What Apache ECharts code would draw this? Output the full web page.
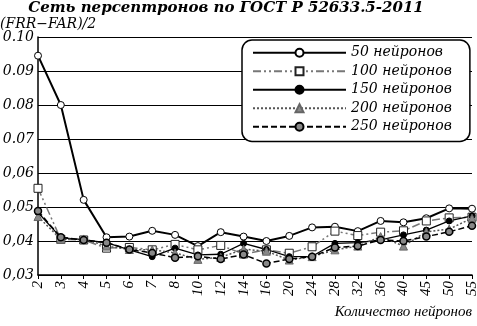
<!DOCTYPE html>
<html><head><meta charset="utf-8">
<script src="https://cdn.jsdelivr.net/npm/echarts@6/dist/echarts.min.js"></script>
<style>html,body{margin:0;padding:0;background:#fff}#c{width:477px;height:326px}</style>
</head><body><div id="c"></div>
<script>
const categories = ['2','3','4','5','6','7','8','10','12','14','16','20','24','28','32','36','40','45','50','55'];
const s50  = [0.0945,0.0800,0.0521,0.0411,0.0413,0.0430,0.0418,0.0385,0.0426,0.0413,0.0400,0.0415,0.0440,0.0442,0.0429,0.0459,0.0455,0.0467,0.0496,0.0495];
const s100 = [0.0555,0.0405,0.0403,0.0379,0.0381,0.0374,0.0390,0.0374,0.0387,0.0362,0.0374,0.0364,0.0383,0.0429,0.0416,0.0426,0.0430,0.0459,0.0468,0.0470];
const s150 = [0.0484,0.0410,0.0403,0.0395,0.0374,0.0354,0.0379,0.0359,0.0361,0.0393,0.0375,0.0354,0.0355,0.0393,0.0395,0.0403,0.0418,0.0432,0.0459,0.0474];
const s200 = [0.0472,0.0405,0.0406,0.0385,0.0375,0.0374,0.0365,0.0346,0.0352,0.0376,0.0370,0.0344,0.0354,0.0374,0.0385,0.0413,0.0385,0.0427,0.0435,0.0467];
const s250 = [0.0488,0.0411,0.0403,0.0395,0.0375,0.0365,0.0351,0.0355,0.0347,0.0360,0.0334,0.0347,0.0354,0.0381,0.0385,0.0403,0.0400,0.0413,0.0427,0.0445];
const seriesNames = ['50 нейронов','100 нейронов','150 нейронов','200 нейронов','250 нейронов'];
const yTickLabels = {'0.03':'0,03','0.04':'0,04','0.05':'0,05','0.06':'0,06','0.07':'0.07','0.08':'0.08','0.09':'0.09','0.1':'0.10'};

const font = 'Liberation Serif';
const wide = 'DejaVu Serif';
const chart = echarts.init(document.getElementById('c'), null, {renderer:'canvas'});
chart.setOption({
  animation:false,
  backgroundColor:'#fff',
  title:[
    {text:'Сеть персептронов по ГОСТ Р 52633.5-2011',left:226,textAlign:'center',top:1,padding:0,
      textStyle:{fontFamily:wide,fontStyle:'italic',fontWeight:'bold',fontSize:15,color:'#000'}},
    {text:'(FRR−FAR)/2',left:0,top:17,padding:0,
      textStyle:{fontFamily:wide,fontStyle:'italic',fontWeight:'normal',fontSize:14,color:'#000'}}
  ],
  grid:{left:38,right:5,top:37,bottom:51,containLabel:false,outerBoundsMode:'none'},
  legend:{data:seriesNames,orient:'vertical',left:242,top:40,
    itemWidth:93,itemHeight:10,itemGap:3,padding:[5,18,7,10],
    backgroundColor:'#fff',borderColor:'#000',borderWidth:1.5,borderRadius:10,
    textStyle:{fontFamily:wide,fontStyle:'italic',fontSize:14,color:'#000',lineHeight:15.5}},
  xAxis:{type:'category',data:categories,boundaryGap:false,
    name:'Количество нейронов',nameLocation:'end',nameGap:0,
    nameTextStyle:{fontFamily:font,fontStyle:'italic',fontSize:15,color:'#000',align:'right',verticalAlign:'top',padding:[30,0,0,0]},
    axisLine:{lineStyle:{color:'#000',width:1.5}},
    axisTick:{show:true,alignWithLabel:true,length:4,lineStyle:{color:'#000'}},
    axisLabel:{rotate:90,fontFamily:font,fontStyle:'italic',fontSize:15,color:'#000',margin:6,interval:0}},
  yAxis:{type:'value',min:0.03,max:0.10,interval:0.01,
    axisLine:{show:true,lineStyle:{color:'#000',width:1.5}},
    axisTick:{show:false},
    splitLine:{lineStyle:{color:'#000',width:1.2}},
    axisLabel:{fontFamily:wide,fontStyle:'italic',fontSize:14,color:'#000',margin:4,
      formatter:v=>yTickLabels[String(+v.toFixed(2))]||v}},
  series:[
    {name:seriesNames[0],type:'line',data:s50,symbol:'circle',symbolSize:7,
      lineStyle:{color:'#000',width:2},itemStyle:{color:'#fff',borderColor:'#000',borderWidth:1}},
    {name:seriesNames[1],type:'line',data:s100,symbol:'rect',symbolSize:8,
      lineStyle:{color:'#777',width:1.5,type:[8,3,2,3,2,3]},itemStyle:{color:'#fff',borderColor:'#222',borderWidth:1}},
    {name:seriesNames[2],type:'line',data:s150,symbol:'circle',symbolSize:6,
      lineStyle:{color:'#000',width:1.3},itemStyle:{color:'#000',borderColor:'#000',borderWidth:1}},
    {name:seriesNames[3],type:'line',data:s200,symbol:'triangle',symbolSize:8,
      lineStyle:{color:'#555',width:1.5,type:[2,2]},itemStyle:{color:'#888',borderColor:'#666',borderWidth:1}},
    {name:seriesNames[4],type:'line',data:s250,symbol:'circle',symbolSize:7,
      lineStyle:{color:'#000',width:1.5,type:[6,3]},itemStyle:{color:'#888',borderColor:'#000',borderWidth:1.5}}
  ]
});
</script></body></html>
